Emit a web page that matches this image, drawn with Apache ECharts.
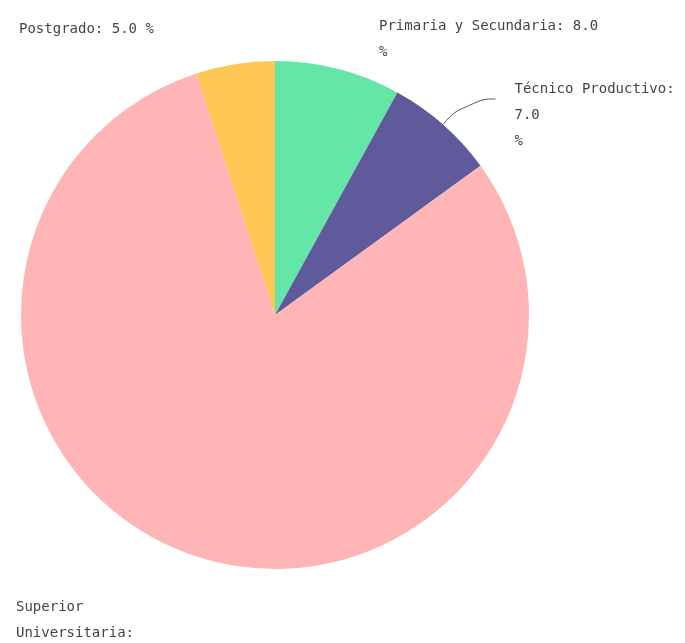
<!DOCTYPE html>
<html>
<head>
<meta charset="utf-8">
<script src="https://cdn.jsdelivr.net/npm/echarts@6/dist/echarts.min.js"></script>
<style>
  html, body { margin: 0; padding: 0; background: #fff; }
  #chart { width: 685px; height: 643px; }
</style>
</head>
<body>
<div id="chart"></div>
<script>
// Distribución por nivel educativo (%)
const categories = ['Primaria y Secundaria', 'Técnico Productivo', 'Superior Universitaria', 'Postgrado'];
const values = [8.0, 7.0, 80.0, 5.0];
const colors = ['#63E6A6', '#5E5A9C', '#FFB5B5', '#FFC654'];

// how each label wraps onto lines
const labelFormats = [
  (n, v) => n + ': ' + v + '\n%',
  (n, v) => '{gap|}\n' + n + ':\n' + v + '\n%',
  (n, v) => 'Superior\nUniversitaria:\n' + v + '\n%',
  (n, v) => n + ': ' + v + ' %'
];
// top-left anchor of label boxes placed freely (null keeps the leader-line placement)
const labelAnchors = [[379, 13], null, [16, 594], [19, 16]];

const chart = echarts.init(document.getElementById('chart'));

const data = categories.map((name, i) => ({
  name: name,
  value: values[i],
  itemStyle: { color: colors[i] },
  labelLine: { show: labelAnchors[i] === null }
}));

chart.setOption({
  animation: false,
  series: [{
    type: 'pie',
    center: [275, 315],
    radius: 254,
    startAngle: 90,
    clockwise: true,
    avoidLabelOverlap: false,
    data: data,
    label: {
      show: true,
      color: '#444',
      fontFamily: 'DejaVu Sans Mono',
      fontSize: 14,
      lineHeight: 26,
      distanceToLabelLine: 19,
      formatter: p => labelFormats[p.dataIndex](p.name, p.value.toFixed(1)),
      rich: {
        gap: { height: 32, lineHeight: 32 }
      }
    },
    labelLine: {
      smooth: 0.6,
      length: 34,
      length2: 30,
      lineStyle: { color: '#555', width: 1 }
    },
    labelLayout: p => {
      const a = labelAnchors[p.dataIndex];
      return a ? { x: a[0], y: a[1], align: 'left', verticalAlign: 'top' } : {};
    }
  }]
});
</script>
</body>
</html>
